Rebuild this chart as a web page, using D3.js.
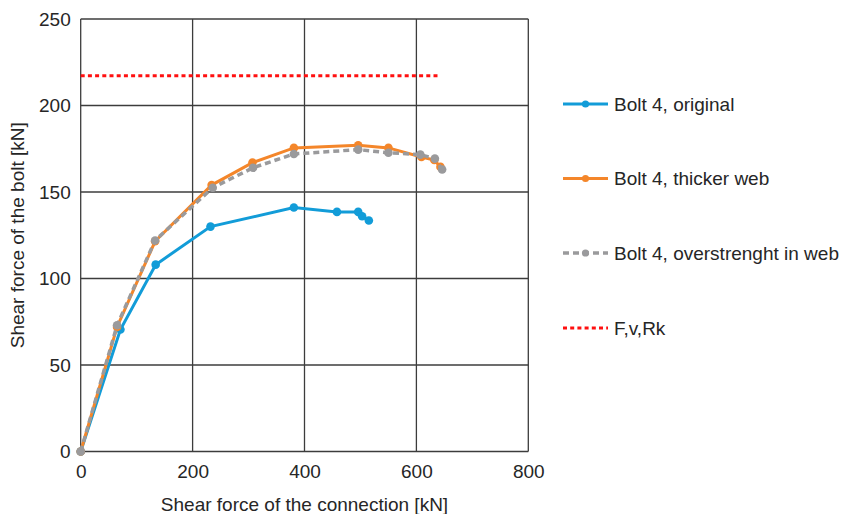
<!DOCTYPE html>
<html>
<head>
<meta charset="utf-8">
<script src="https://cdn.jsdelivr.net/npm/d3@7"></script>
<style>
  body { margin: 0; background: #fff; }
  text { font-family: 'Liberation Sans', Arial, sans-serif; fill: #262626; }
</style>
</head>
<body>
<div id="chart"></div>
<script>
// values
const originalX = [0, 71, 134, 232, 381, 458, 496, 503, 515]
const originalY = [0, 70.5, 108, 130, 141, 138.5, 138.5, 136, 133.5]

const thickerX = [0, 65, 133, 234, 307, 381, 496, 550, 609, 632, 643]
const thickerY = [0, 72, 121.5, 154, 167, 175.5, 177, 175.5, 170.2, 168.5, 164.5]

const overX = [0, 65, 133, 236, 308, 381, 496, 550, 607, 633, 646]
const overY = [0, 73, 122, 152.5, 164, 172, 174.5, 172.7, 171.6, 169.3, 163]

const fvrkX = [0, 638]
const fvrkY = [217.2, 217.2]

const xTicks = [0, 200, 400, 600, 800]
const yTicks = [0, 50, 100, 150, 200, 250]

const seriesNames = [
  'Bolt 4, original',
  'Bolt 4, thicker web',
  'Bolt 4, overstrenght in web',
  'F,v,Rk'
]

const margin = { top: 19, left: 80.7, right: 312.7, bottom: 62.5 }
const width = 841 - margin.left - margin.right
const height = 514 - margin.top - margin.bottom

const svg = d3
  .select('#chart')
  .append('svg')
  .attr('width', 841)
  .attr('height', 514)

const g = svg
  .append('g')
  .attr('transform', 'translate(' + margin.left + ',' + margin.top + ')')

const xScale = d3.scaleLinear().domain([0, 800]).range([0, width])
const yScale = d3.scaleLinear().domain([0, 250]).range([height, 0])

// grid
g.selectAll('.vgrid')
  .data(xTicks)
  .enter()
  .append('line')
  .attr('x1', d => xScale(d))
  .attr('x2', d => xScale(d))
  .attr('y1', 0)
  .attr('y2', height)
  .attr('stroke', '#3c3c3c')
  .attr('stroke-width', 1.3)

g.selectAll('.hgrid')
  .data(yTicks)
  .enter()
  .append('line')
  .attr('x1', 0)
  .attr('x2', width)
  .attr('y1', d => yScale(d))
  .attr('y2', d => yScale(d))
  .attr('stroke', '#3c3c3c')
  .attr('stroke-width', 1.3)

// axes (labels only)
const xAxis = d3.axisBottom(xScale).tickValues(xTicks).tickSize(0).tickPadding(13)
const yAxis = d3.axisLeft(yScale).tickValues(yTicks).tickSize(0).tickPadding(10)

g.append('g')
  .attr('class', 'x-axis')
  .attr('transform', 'translate(0,' + height + ')')
  .call(xAxis)
  .call(sel => sel.select('.domain').remove())

g.append('g')
  .attr('class', 'y-axis')
  .call(yAxis)
  .call(sel => sel.select('.domain').remove())

svg.selectAll('.tick text')
  .attr('font-size', 19)
  .attr('font-family', "'Liberation Sans', Arial, sans-serif")
  .attr('fill', '#262626')

svg.append('text')
  .attr('x', margin.left + width / 2)
  .attr('y', 511)
  .attr('text-anchor', 'middle')
  .attr('font-size', 19)
  .text('Shear force of the connection [kN]')

svg.append('text')
  .attr('transform', 'translate(24,' + (margin.top + height / 2) + ') rotate(-90)')
  .attr('text-anchor', 'middle')
  .attr('font-size', 19)
  .text('Shear force of the bolt [kN]')

const line = d3
  .line()
  .x(d => xScale(d[0]))
  .y(d => yScale(d[1]))

const series = [
  { xs: originalX, ys: originalY, color: '#129cd8', width: 3, dash: null, marker: true },
  { xs: thickerX, ys: thickerY, color: '#f4862a', width: 3, dash: null, marker: true },
  { xs: overX, ys: overY, color: '#9a9a9c', width: 3.5, dash: '6,4', marker: true },
  { xs: fvrkX, ys: fvrkY, color: '#ff1010', width: 3, dash: '4,3.2', marker: false }
]

series.forEach(s => {
  const pts = s.xs.map((x, i) => [x, s.ys[i]])
  g.append('path')
    .datum(pts)
    .attr('d', line)
    .attr('fill', 'none')
    .attr('stroke', s.color)
    .attr('stroke-width', s.width)
    .attr('stroke-dasharray', s.dash)

  if (s.marker) {
    g.selectAll(null)
      .data(pts)
      .enter()
      .append('circle')
      .attr('cx', d => xScale(d[0]))
      .attr('cy', d => yScale(d[1]))
      .attr('r', 4.3)
      .attr('fill', s.color)
  }
})

// legend
const legendY = [104, 178.5, 253, 328]
const legend = svg
  .selectAll('.legend')
  .data(series)
  .enter()
  .append('g')
  .attr('class', 'legend')
  .attr('transform', (d, i) => 'translate(563,' + legendY[i] + ')')

legend.append('line')
  .attr('x1', 0)
  .attr('x2', 45)
  .attr('stroke', d => d.color)
  .attr('stroke-width', d => d.width)
  .attr('stroke-dasharray', d => d.dash)

legend.filter(d => d.marker)
  .append('circle')
  .attr('cx', 22.5)
  .attr('r', 3.6)
  .attr('fill', d => d.color)

legend.append('text')
  .attr('x', 51)
  .attr('dy', '0.35em')
  .attr('font-size', 19)
  .text((d, i) => seriesNames[i])
</script>
</body>
</html>
